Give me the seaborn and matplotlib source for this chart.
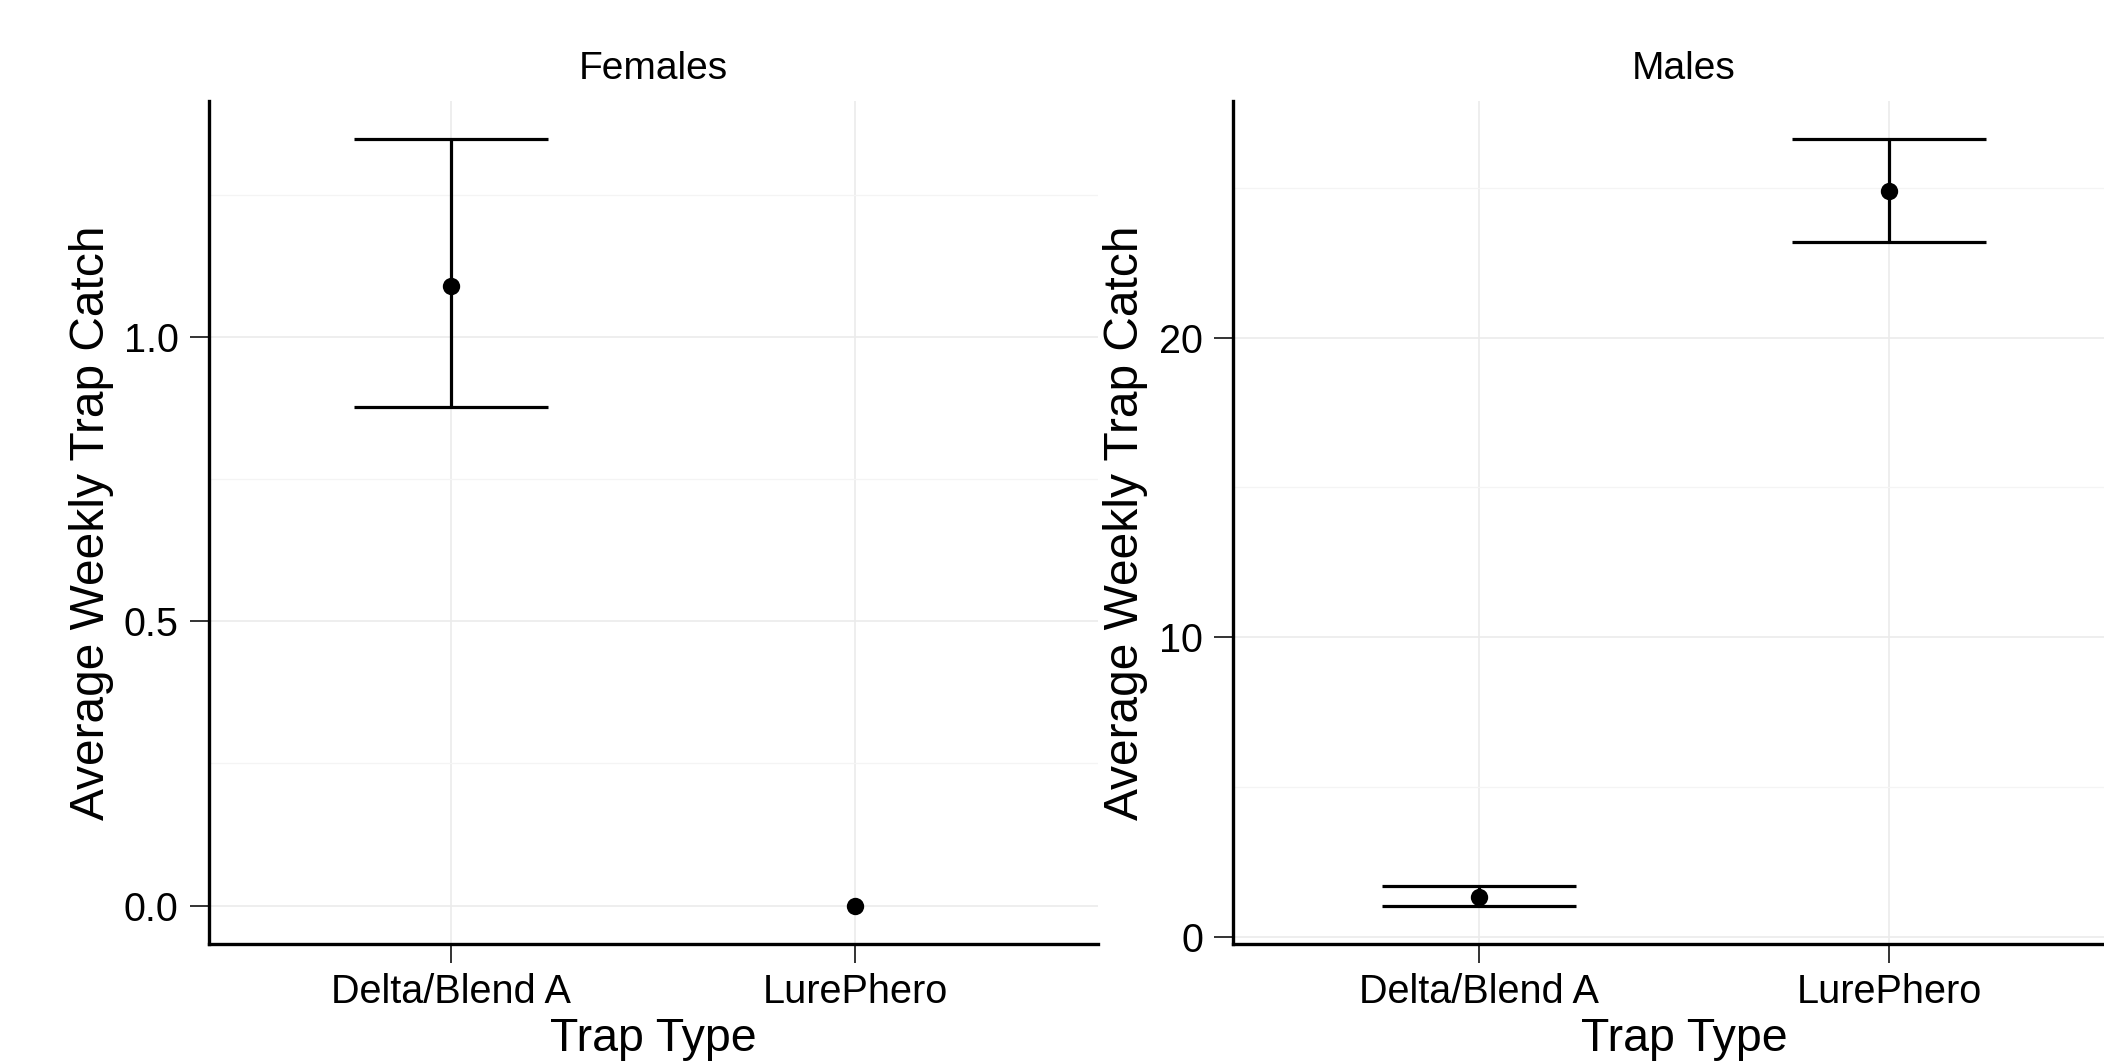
import numpy as np
import pandas as pd
import matplotlib
matplotlib.use("Agg")
import matplotlib.pyplot as plt
import seaborn as sns
from matplotlib.ticker import FixedLocator

# ---------------- data ----------------
panels = ["Females", "Males"]
trap_types = ["Delta/Blend A", "LurePhero"]

female_mean = [1.09, 0.0]
female_lower = [0.876, np.nan]
female_upper = [1.347, np.nan]

male_mean = [1.33, 24.89]
male_lower = [1.05, 23.17]
male_upper = [1.70, 26.61]

female_yticks = [0.0, 0.5, 1.0]
female_ytick_labels = ["0.0", "0.5", "1.0"]
female_minor = [0.25, 0.75, 1.25]
male_yticks = [0, 10, 20]
male_ytick_labels = ["0", "10", "20"]
male_minor = [5, 15, 25]

x_label = "Trap Type"
y_label = "Average Weekly Trap Catch"

# ---------------- table ----------------
rows = []
for panel, means, lows, ups in [
    ("Females", female_mean, female_lower, female_upper),
    ("Males", male_mean, male_lower, male_upper),
]:
    for t, m, lo, up in zip(trap_types, means, lows, ups):
        rows.append(dict(sex=panel, trap=t, mean=m, lower=lo, upper=up))
df = pd.DataFrame(rows)

ticks_info = {
    "Females": (female_yticks, female_ytick_labels, female_minor),
    "Males": (male_yticks, male_ytick_labels, male_minor),
}

# ---------------- style ----------------
sns.set_theme(style="white")
plt.rcParams["font.family"] = ["Liberation Sans", "DejaVu Sans"]

W, H = 2104, 1062
fig = plt.figure(figsize=(W / 100, H / 100), dpi=100)
fig.patch.set_facecolor("white")

# panel positions in pixels: (left, top, right, bottom)
boxes = {
    "Females": (208.5, 101, 1098, 944),
    "Males": (1233, 101, 2135, 944),
}
ylabel_x = {"Females": 91, "Males": 1125.5}

for panel in panels:
    l, t, r, b = boxes[panel]
    ax = fig.add_axes([l / W, (H - b) / H, (r - l) / W, (b - t) / H])
    sub = df[df["sex"] == panel]

    sns.stripplot(data=sub, x="trap", y="mean", order=trap_types, jitter=False,
                  color="black", size=12.5, linewidth=0, ax=ax, zorder=4)

    valid = sub.dropna(subset=["lower", "upper"])
    pos = [trap_types.index(tt) for tt in valid["trap"]]
    ax.errorbar(pos, valid["mean"],
                yerr=[valid["mean"] - valid["lower"], valid["upper"] - valid["mean"]],
                fmt="none", ecolor="black", elinewidth=2.3, capsize=70,
                capthick=2.3, zorder=3)

    vals = pd.concat([sub["mean"], sub["lower"], sub["upper"]]).dropna()
    lo, hi = vals.min(), vals.max()
    pad = 0.05 * (hi - lo)
    ax.set_ylim(lo - pad, hi + pad)
    ax.set_xlim(-0.6, len(trap_types) - 0.4)

    yt, ytl, ymn = ticks_info[panel]
    ax.set_yticks(yt)
    ax.set_yticklabels(ytl)
    ax.yaxis.set_minor_locator(FixedLocator(ymn))
    ax.set_xticks(range(len(trap_types)))
    ax.set_xticklabels(trap_types)

    ax.set_axisbelow(True)
    ax.grid(True, which="major", axis="both", color="#ebebeb", lw=1.2)
    ax.grid(True, which="minor", axis="y", color="#f4f4f4", lw=0.9)

    for s in ["top", "right"]:
        ax.spines[s].set_visible(False)
    for s in ["left", "bottom"]:
        ax.spines[s].set_visible(True)
        ax.spines[s].set_color("black")
        ax.spines[s].set_linewidth(2.4)

    ax.tick_params(which="major", direction="out", length=14, width=1.4,
                   color="#333333", labelsize=28.5, labelcolor="black",
                   left=True, bottom=True)
    ax.tick_params(axis="y", which="major", pad=7.5)
    ax.tick_params(axis="x", which="major", pad=7)
    ax.tick_params(which="minor", length=0)

    ax.set_title(panel, fontsize=28, pad=16, color="black")

    ax.set_xlabel(x_label, fontsize=33.5, color="black")
    ax.xaxis.set_label_coords(0.5, (11 - (H - b)) / (b - t))
    ax.xaxis.label.set_va("baseline")

    ax.set_ylabel(y_label, fontsize=34.5, color="black", va="center")
    ax.yaxis.set_label_coords((ylabel_x[panel] - l) / (r - l), 0.5)

fig.savefig("out.png", dpi=100, facecolor="white")
